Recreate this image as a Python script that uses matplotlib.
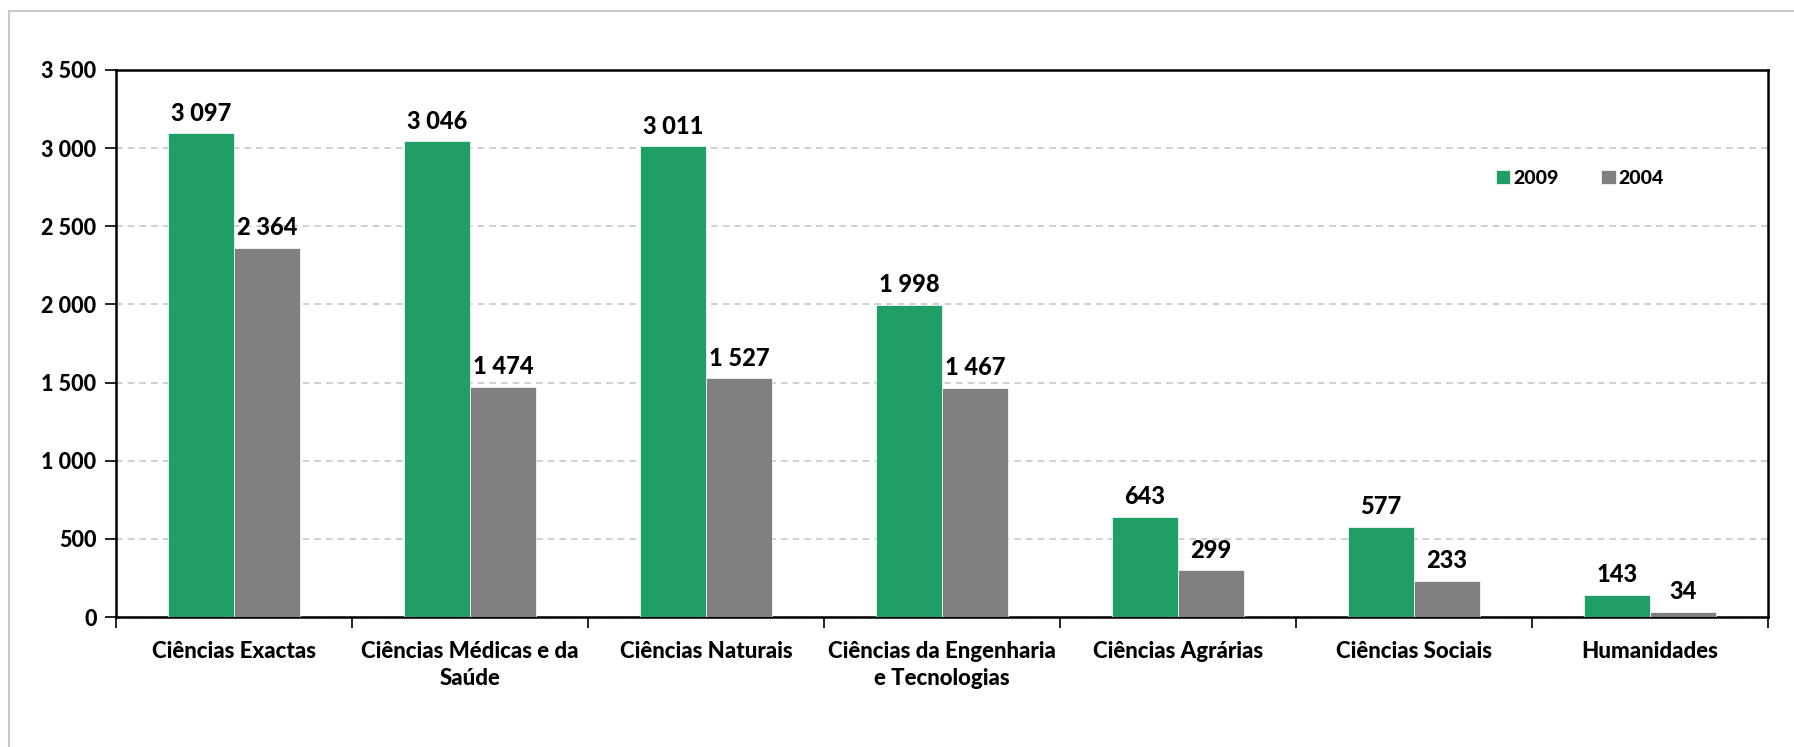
import numpy as np
import matplotlib
matplotlib.use("Agg")
import matplotlib.pyplot as plt
from matplotlib.patches import Rectangle
from matplotlib.ticker import FixedLocator, FuncFormatter

#  DATA
categories = ["Ciências Exactas", "Ciências Médicas e da\nSaúde", "Ciências Naturais",
              "Ciências da Engenharia\ne Tecnologias", "Ciências Agrárias",
              "Ciências Sociais", "Humanidades"]
vals_2009 = [3097, 3046, 3011, 1998, 643, 577, 143]
vals_2004 = [2364, 1474, 1527, 1467, 299, 233, 34]
series_names = ["2009", "2004"]
y_ticks = [0, 500, 1000, 1500, 2000, 2500, 3000, 3500]

#  STYLE
GREEN = "#1f9f66"
GREY = "#808080"
FONT = ["Lato", "DejaVu Sans"]
WEIGHT = "black"
plt.rcParams["font.family"] = FONT
plt.rcParams["font.weight"] = WEIGHT

W, H = 1794, 747
fig = plt.figure(figsize=(W / 100, H / 100), dpi=100)

# light outer frame
fig.patches.append(Rectangle((9 / W, -0.1), 1.2, 1 - 11 / H + 0.1, transform=fig.transFigure,
                             fill=False, edgecolor="#c8c8c8", lw=1.5))

ax = fig.add_axes([116 / W, 130 / H, 1652 / W, 547 / H])

x = np.arange(len(categories))
bw = 0.28
b1 = ax.bar(x - bw / 2, vals_2009, bw, color=GREEN, edgecolor="white", lw=0.5,
            label=series_names[0], zorder=3)
b2 = ax.bar(x + bw / 2, vals_2004, bw, color=GREY, edgecolor="white", lw=0.5,
            label=series_names[1], zorder=3)

fmt = lambda v: f"{int(v):,}".replace(",", " ")
for bars in (b1, b2):
    for r in bars:
        ax.annotate(fmt(r.get_height()), (r.get_x() + r.get_width() / 2, r.get_height()),
                    xytext=(0, 6), textcoords="offset points", ha="center", va="bottom",
                    fontsize=17, fontweight=WEIGHT)

ax.set_xlim(-0.5, len(categories) - 0.5)
ax.set_ylim(0, 3500)
ax.set_yticks(y_ticks)
ax.yaxis.set_major_formatter(FuncFormatter(lambda v, p: fmt(v)))
ax.yaxis.grid(True, ls=(0, (4, 3)), color="#c8c8c8", lw=1.2, zorder=0)

ax.set_xticks(x)
ax.set_xticklabels(categories, fontsize=16, linespacing=1.4, fontweight=WEIGHT)
ax.xaxis.set_minor_locator(FixedLocator(np.arange(-0.5, len(categories), 1.0)))
ax.tick_params(axis="x", which="major", length=0, pad=17)
ax.tick_params(axis="x", which="minor", length=8, width=1.2, direction="out")
ax.tick_params(axis="y", length=8, width=1.2, direction="out", labelsize=15.5, pad=6)
for t in ax.get_yticklabels():
    t.set_fontweight(WEIGHT)

for s in ax.spines.values():
    s.set_linewidth(1.8)
    s.set_color("black")

leg = ax.legend(loc="center left", bbox_to_anchor=(1478 / W, 1 - 178 / H),
                bbox_transform=fig.transFigure, ncol=2, frameon=False,
                fontsize=14, handlelength=0.75, handleheight=0.75, handletextpad=0.15,
                columnspacing=2.2)
for t in leg.get_texts():
    t.set_fontweight(WEIGHT)

fig.savefig("out.png", dpi=100)
